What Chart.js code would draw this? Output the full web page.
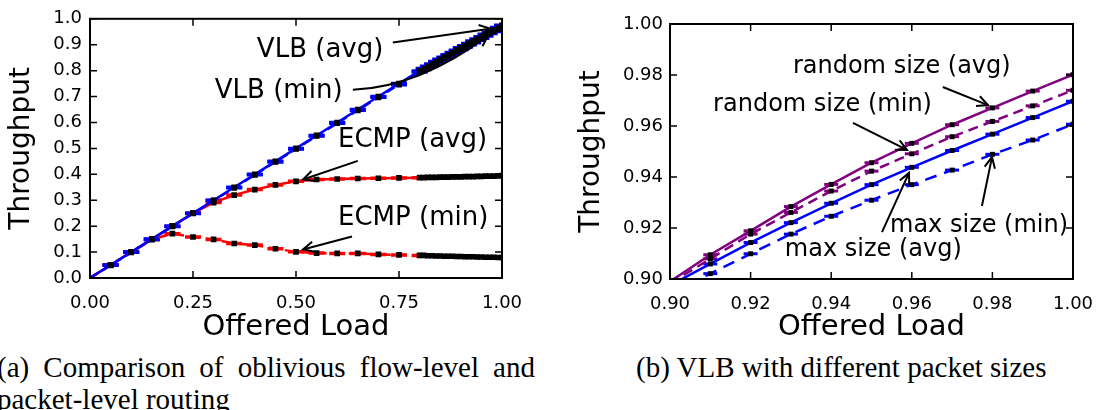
<!DOCTYPE html>
<html>
<head>
<meta charset="utf-8">
<script src="https://cdn.jsdelivr.net/npm/chart.js@4"></script>
<style>
  body { margin: 0; background: #fff; }
  #wrap { position: relative; width: 1097px; height: 410px; overflow: hidden; background: #fff; }
  #left { position: absolute; left: 0; top: 0; }
  #right { position: absolute; left: 560px; top: 0; }
  .cap { position: absolute; font-family: "Liberation Serif", "DejaVu Serif", serif; font-size: 29px; line-height: 32px; color: #000; white-space: nowrap; }
</style>
</head>
<body>
<div id="wrap">
  <canvas id="left" width="560" height="345"></canvas>
  <canvas id="right" width="537" height="345"></canvas>
  <div class="cap" style="left:-3px; top:351px; width:538px; text-align:justify; text-align-last:justify;">(a) Comparison of oblivious flow-level and</div>
  <div class="cap" style="left:-3px; top:383px;">packet-level routing</div>
  <div class="cap" style="left:636px; top:351px;">(b) VLB with different packet sizes</div>
</div>
<script>
// (a) flow-level vs packet-level routing
const loadA = [0, 0.05, 0.10, 0.15, 0.20, 0.25, 0.30, 0.35, 0.40, 0.45, 0.50, 0.55, 0.60, 0.65, 0.70, 0.75,
  0.80, 0.81, 0.82, 0.83, 0.84, 0.85, 0.86, 0.87, 0.88, 0.89, 0.90, 0.91, 0.92, 0.93, 0.94, 0.95, 0.96, 0.97, 0.98, 0.99, 1.00];
const vlbAvg = [0, 0.050, 0.100, 0.150, 0.200, 0.250, 0.300, 0.350, 0.400, 0.450, 0.500, 0.550, 0.600, 0.650, 0.700, 0.750,
  0.799, 0.808, 0.817, 0.826, 0.835, 0.844, 0.852, 0.861, 0.870, 0.879, 0.888, 0.896, 0.905, 0.914, 0.922, 0.931, 0.940, 0.948, 0.957, 0.966, 0.975];
const vlbMin = [0, 0.049, 0.099, 0.149, 0.199, 0.249, 0.299, 0.348, 0.398, 0.448, 0.498, 0.548, 0.597, 0.647, 0.697, 0.746,
  0.795, 0.804, 0.813, 0.822, 0.830, 0.839, 0.848, 0.856, 0.865, 0.874, 0.882, 0.891, 0.900, 0.908, 0.917, 0.925, 0.934, 0.943, 0.951, 0.960, 0.968];
const ecmpAvg = [0, 0.050, 0.100, 0.149, 0.200, 0.250, 0.291, 0.320, 0.341, 0.359, 0.373, 0.380, 0.382, 0.384, 0.385, 0.386,
  0.387, 0.387, 0.388, 0.388, 0.388, 0.389, 0.389, 0.389, 0.390, 0.390, 0.390, 0.391, 0.391, 0.391, 0.392, 0.392, 0.393, 0.393, 0.393, 0.394, 0.395];
const ecmpMin = [0, 0.050, 0.100, 0.149, 0.171, 0.158, 0.149, 0.133, 0.127, 0.113, 0.101, 0.096, 0.095, 0.095, 0.091, 0.089,
  0.087, 0.087, 0.086, 0.086, 0.085, 0.085, 0.084, 0.084, 0.084, 0.083, 0.083, 0.082, 0.082, 0.082, 0.081, 0.081, 0.080, 0.080, 0.080, 0.079, 0.079];

// (b) VLB with different packet sizes
const loadB = [0.90, 0.91, 0.92, 0.93, 0.94, 0.95, 0.96, 0.97, 0.98, 0.99, 1.00];
const randAvg = [0.8990, 0.9095, 0.9189, 0.9284, 0.9371, 0.9456, 0.9532, 0.9605, 0.9671, 0.9737, 0.9801];
const randMin = [0.8983, 0.9079, 0.9176, 0.9261, 0.9345, 0.9423, 0.9491, 0.9558, 0.9618, 0.9679, 0.9740];
const maxAvg = [0.8975, 0.9059, 0.9143, 0.9221, 0.9297, 0.9370, 0.9438, 0.9504, 0.9568, 0.9633, 0.9697];
const maxMin = [0.8940, 0.9021, 0.9099, 0.9176, 0.9246, 0.9309, 0.9370, 0.9427, 0.9489, 0.9545, 0.9607];

const RED = '#ff0000', BLUE = '#0000ff', PURPLE = '#800080';

Chart.defaults.font.family = 'DejaVu Sans';
Chart.defaults.color = '#000';

function pts(xs, ys) { return xs.map((x, i) => ({ x: x, y: ys[i] })); }

// the first point of each series only anchors the line, no marker there
function skipFirst(r) { return ctx => ctx.dataIndex === 0 ? 0 : r; }

function series(xs, ys, color, dash, order, mark) {
  return {
    data: pts(xs, ys), borderColor: color, borderWidth: 2.5, borderDash: dash,
    pointStyle: 'rect', pointRadius: skipFirst(mark), pointBackgroundColor: '#000',
    pointBorderColor: '#000', pointBorderWidth: 0, tension: 0, fill: false, order: order
  };
}

function caps(xs, ys, color, r, w) {
  return {
    data: pts(xs, ys), showLine: false, pointStyle: 'line', pointRadius: skipFirst(r),
    pointBorderColor: color, pointBorderWidth: w, order: 10
  };
}

// black frame and inward ticks on all four sides, like the original plot
const framePlugin = {
  id: 'frame',
  afterDatasetsDraw(chart) {
    const { ctx, chartArea: a, scales } = chart;
    const len = 7;
    ctx.save();
    ctx.strokeStyle = '#000';
    ctx.lineWidth = 1.5;
    ctx.beginPath();
    scales.x.ticks.forEach(t => {
      const px = scales.x.getPixelForValue(t.value);
      ctx.moveTo(px, a.bottom); ctx.lineTo(px, a.bottom - len);
      ctx.moveTo(px, a.top); ctx.lineTo(px, a.top + len);
    });
    scales.y.ticks.forEach(t => {
      const py = scales.y.getPixelForValue(t.value);
      ctx.moveTo(a.left, py); ctx.lineTo(a.left + len, py);
      ctx.moveTo(a.right, py); ctx.lineTo(a.right - len, py);
    });
    ctx.stroke();
    ctx.lineWidth = 2;
    ctx.strokeRect(a.left, a.top, a.right - a.left, a.bottom - a.top);
    ctx.restore();
  }
};

// text labels with arrows, placed in data coordinates
const notesPlugin = {
  id: 'notes',
  afterDatasetsDraw(chart, args, opts) {
    const { ctx, scales: { x, y } } = chart;
    const P = p => [x.getPixelForValue(p[0]), y.getPixelForValue(p[1])];
    ctx.save();
    ctx.fillStyle = '#000';
    ctx.strokeStyle = '#000';
    ctx.lineWidth = 2;
    ctx.font = opts.size + 'px "DejaVu Sans"';
    ctx.textAlign = 'left';
    ctx.textBaseline = 'middle';
    opts.items.forEach(n => {
      const t = P(n.at);
      ctx.fillText(n.text, t[0], t[1]);
      const a = P(n.from), b = P(n.to);
      let c = null;
      ctx.beginPath();
      ctx.moveTo(a[0], a[1]);
      if (n.via) { c = P(n.via); ctx.quadraticCurveTo(c[0], c[1], b[0], b[1]); }
      else ctx.lineTo(b[0], b[1]);
      ctx.stroke();
      const s = c || a;
      const ang = Math.atan2(b[1] - s[1], b[0] - s[0]);
      const hl = 12, hw = 0.45;
      ctx.beginPath();
      ctx.moveTo(b[0] - hl * Math.cos(ang - hw), b[1] - hl * Math.sin(ang - hw));
      ctx.lineTo(b[0], b[1]);
      ctx.lineTo(b[0] - hl * Math.cos(ang + hw), b[1] - hl * Math.sin(ang + hw));
      ctx.stroke();
    });
    ctx.restore();
  }
};

function axes(xr, yr, xStep, yStep, xDig, yDig, yWidth, xHeight, yTitlePad, tickPad) {
  return {
    x: {
      type: 'linear', min: xr[0], max: xr[1],
      afterFit: s => { s.height = xHeight; },
      // label gap comes from tickLength (ticks themselves are hidden) so the side padding stays small
      ticks: { stepSize: xStep, callback: v => v.toFixed(xDig), font: { size: 18 }, padding: 0, maxRotation: 0, autoSkip: false },
      grid: { display: false, drawTicks: true, tickLength: 15 }, border: { display: false },
      title: { display: true, text: 'Offered Load', font: { size: 29 }, padding: 0 }
    },
    y: {
      type: 'linear', min: yr[0], max: yr[1],
      afterFit: s => { s.width = yWidth; },
      ticks: { stepSize: yStep, callback: v => v.toFixed(yDig), font: { size: 18 }, padding: tickPad, autoSkip: false },
      grid: { display: false, drawTicks: false }, border: { display: false },
      title: { display: true, text: 'Throughput', font: { size: 28 }, padding: { top: yTitlePad, bottom: 0 } }
    }
  };
}

new Chart(document.getElementById('left'), {
  type: 'line',
  data: {
    datasets: [
      series(loadA, vlbAvg, BLUE, [], 1, 4),
      series(loadA, vlbMin, BLUE, [9, 5], 2, 4),
      series(loadA, ecmpAvg, RED, [], 3, 4),
      series(loadA, ecmpMin, RED, [10, 6], 4, 4),
      caps(loadA, vlbAvg, BLUE, 8, 3.5),
      caps(loadA, vlbMin, BLUE, 8, 3.5),
      caps(loadA, ecmpAvg, RED, 8, 3.5),
      caps(loadA, ecmpMin, RED, 8, 3.5)
    ]
  },
  options: {
    responsive: false, animation: false,
    layout: { padding: { left: 0, right: 58, top: 15, bottom: 0 } },
    plugins: {
      legend: { display: false }, tooltip: { enabled: false },
      notes: {
        size: 26,
        items: [
          { text: 'VLB (avg)', at: [0.405, 0.878], from: [0.735, 0.909], to: [0.971, 0.962] },
          { text: 'VLB (min)', at: [0.303, 0.722], from: [0.638, 0.726], via: [0.799, 0.736], to: [0.966, 0.935] },
          { text: 'ECMP (avg)', at: [0.602, 0.532], from: [0.650, 0.452], to: [0.517, 0.380] },
          { text: 'ECMP (min)', at: [0.602, 0.232], from: [0.636, 0.160], to: [0.517, 0.110] }
        ]
      }
    },
    scales: axes([0, 1], [0, 1], 0.25, 0.1, 2, 1, 90, 67, 5, 8)
  },
  plugins: [framePlugin, notesPlugin]
});

new Chart(document.getElementById('right'), {
  type: 'line',
  data: {
    datasets: [
      series(loadB, randAvg, PURPLE, [], 1, 3.5),
      series(loadB, randMin, PURPLE, [10, 6], 2, 3.5),
      series(loadB, maxAvg, BLUE, [], 3, 3.5),
      series(loadB, maxMin, BLUE, [12, 8], 4, 3.5),
      caps(loadB, randAvg, PURPLE, 7, 3),
      caps(loadB, randMin, PURPLE, 7, 3),
      caps(loadB, maxAvg, BLUE, 7, 3),
      caps(loadB, maxMin, BLUE, 7, 3)
    ]
  },
  options: {
    responsive: false, animation: false,
    layout: { padding: { left: 0, right: 24, top: 24, bottom: 0 } },
    plugins: {
      legend: { display: false }, tooltip: { enabled: false },
      notes: {
        size: 24,
        items: [
          { text: 'random size (avg)', at: [0.9305, 0.9831], from: [0.9677, 0.9753], to: [0.9789, 0.9682] },
          { text: 'random size (min)', at: [0.9107, 0.9682], from: [0.9454, 0.9612], to: [0.9588, 0.9506] },
          { text: 'max size (min)', at: [0.9546, 0.9208], from: [0.9774, 0.9286], to: [0.9799, 0.9478] },
          { text: 'max size (avg)', at: [0.9285, 0.9114], from: [0.9526, 0.9184], to: [0.9593, 0.9416] }
        ]
      }
    },
    scales: axes([0.9, 1.0], [0.9, 1.0], 0.02, 0.02, 2, 2, 110, 66, 15, 7)
  },
  plugins: [framePlugin, notesPlugin]
});
</script>
</body>
</html>
